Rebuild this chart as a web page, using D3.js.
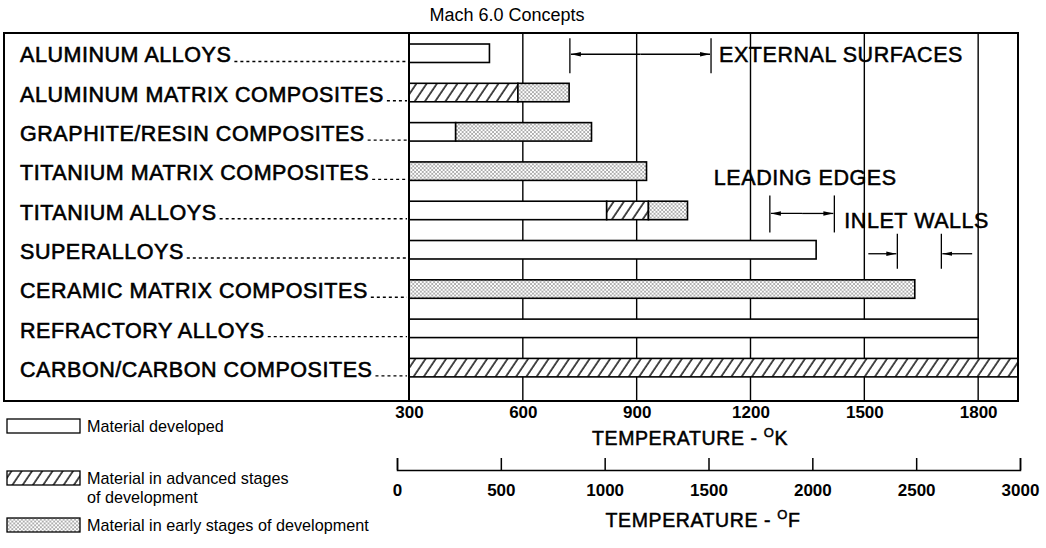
<!DOCTYPE html>
<html><head><meta charset="utf-8">
<script src="https://cdn.jsdelivr.net/npm/d3@7"></script>
<style>
html,body{margin:0;padding:0;background:#fff;}
svg{display:block;font-family:"Liberation Sans",Arial,sans-serif;}
</style></head>
<body><svg id="c" width="1046" height="548"></svg>
<script>
// ---- data ----
const categories = ["ALUMINUM ALLOYS","ALUMINUM MATRIX COMPOSITES","GRAPHITE/RESIN COMPOSITES","TITANIUM MATRIX COMPOSITES","TITANIUM ALLOYS","SUPERALLOYS","CERAMIC MATRIX COMPOSITES","REFRACTORY ALLOYS","CARBON/CARBON COMPOSITES"];
// cumulative temperature limits (K), bars start at 300 K
const developedEnd = [512, 300, 423, 300, 821, 1373, 300, 1800, 300];
const advancedEnd  = [512, 587, 423, 300, 931, 1373, 300, 1800, 1905];
const earlyEnd     = [512, 722, 781, 926, 1034, 1373, 1633, 1800, 1905];
const kTicks = [300, 600, 900, 1200, 1500, 1800];
const fTicks = [0, 500, 1000, 1500, 2000, 2500, 3000];
const externalSurfaces = [724, 1096];
const leadingEdges = [1251, 1421];
const inletWalls = [1587, 1703];
const legendLabels = [["Material developed"],["Material in advanced stages","of development"],["Material in early stages of development"]];

const svg = d3.select("#c");
const defs = svg.append("defs");
const hatch = defs.append("pattern").attr("id","hatch").attr("patternUnits","userSpaceOnUse")
  .attr("width",8.5).attr("height",10).attr("patternTransform","rotate(34)");
hatch.append("rect").attr("width",8.5).attr("height",10).attr("fill","#fff");
hatch.append("line").attr("x1",1).attr("x2",1).attr("y1",-1).attr("y2",11).attr("stroke","#000").attr("stroke-width",1.4);
const dots = defs.append("pattern").attr("id","dots").attr("patternUnits","userSpaceOnUse").attr("width",3.8).attr("height",3.8);
dots.append("rect").attr("width",3.8).attr("height",3.8).attr("fill","#fff");
dots.append("circle").attr("cx",0.95).attr("cy",0.95).attr("r",0.7).attr("fill","#333");
dots.append("circle").attr("cx",2.85).attr("cy",2.85).attr("r",0.7).attr("fill","#333");
defs.append("marker").attr("id","ah").attr("viewBox","0 0 10 6").attr("refX",10).attr("refY",3)
  .attr("markerWidth",10).attr("markerHeight",6).attr("markerUnits","userSpaceOnUse").attr("orient","auto-start-reverse")
  .append("path").attr("d","M0,0.8L10,3L0,5.2Z").attr("fill","#000");

const boxL = 4, boxR = 1018, boxT = 33, boxB = 401;
const x = d3.scaleLinear().domain([300, 1905]).range([409, 1018]);
const y = d3.scaleBand().domain(categories).range([33.6, 387.3]).paddingInner(0.53).paddingOuter(0.265);
const bw = y.bandwidth();

// title
svg.append("text").attr("x",507).attr("y",21).attr("text-anchor","middle").attr("font-size",18).text("Mach 6.0 Concepts");

// gridlines
svg.append("g").selectAll("line").data(kTicks.slice(1)).join("line")
  .attr("x1",d=>x(d)).attr("x2",d=>x(d)).attr("y1",boxT).attr("y2",boxB)
  .attr("stroke","#000").attr("stroke-width",1.4);

// bars
const segs = [];
categories.forEach((c,i)=>{
  segs.push({c, a:300, b:developedEnd[i], f:"#fff"});
  segs.push({c, a:developedEnd[i], b:advancedEnd[i], f:"url(#hatch)"});
  segs.push({c, a:advancedEnd[i], b:earlyEnd[i], f:"url(#dots)"});
});
svg.append("g").selectAll("rect").data(segs.filter(s=>s.b>s.a)).join("rect")
  .attr("x",d=>x(d.a)).attr("width",d=>x(d.b)-x(d.a)).attr("y",d=>y(d.c)).attr("height",bw)
  .attr("fill",d=>d.f).attr("stroke","#000").attr("stroke-width",1.6);

// frame
svg.append("rect").attr("x",boxL).attr("y",boxT).attr("width",boxR-boxL).attr("height",boxB-boxT)
  .attr("fill","none").attr("stroke","#000").attr("stroke-width",2);
svg.append("line").attr("x1",x(300)).attr("x2",x(300)).attr("y1",boxT).attr("y2",boxB).attr("stroke","#000").attr("stroke-width",2);

// category labels with leader dots
const lab = svg.append("g");
categories.forEach((c,i)=>{
  const base = y(c)+bw;
  const t = lab.append("text").attr("x",20).attr("y",base).attr("font-size",21.5).attr("letter-spacing",0.55)
    .attr("fill","#000").attr("stroke","#000").attr("stroke-width",0.6).text(c);
  const end = 20 + t.node().getComputedTextLength();
  lab.append("line").attr("x1",end+3).attr("x2",x(300)-2).attr("y1",base-1).attr("y2",base-1)
    .attr("stroke","#000").attr("stroke-width",1.4).attr("stroke-dasharray","3,3");
});

// annotations
const ann = svg.append("g").attr("stroke","#000").attr("stroke-width",1.3);
const annText = (xx,yy,s)=>svg.append("text").attr("x",xx).attr("y",yy).attr("font-size",21.5).attr("letter-spacing",0.55)
  .attr("stroke","#000").attr("stroke-width",0.5).text(s);
function yc(i){ return y(categories[i]) + bw/2; }
// external surfaces
{
  const yy = yc(0)+1;
  externalSurfaces.forEach(v=>ann.append("line").attr("x1",x(v)).attr("x2",x(v)).attr("y1",yy-16).attr("y2",yy+19));
  const mid = (x(externalSurfaces[0])+x(externalSurfaces[1]))/2;
  ann.append("line").attr("x1",mid).attr("x2",x(externalSurfaces[0])+1).attr("y1",yy).attr("y2",yy).attr("marker-end","url(#ah)");
  ann.append("line").attr("x1",mid).attr("x2",x(externalSurfaces[1])-1).attr("y1",yy).attr("y2",yy).attr("marker-end","url(#ah)");
  annText(x(externalSurfaces[1])+8, yy+8, "EXTERNAL SURFACES");
}
// leading edges
{
  const yy = yc(4)+3;
  leadingEdges.forEach(v=>ann.append("line").attr("x1",x(v)).attr("x2",x(v)).attr("y1",yy-18).attr("y2",yy+19));
  const mid = (x(leadingEdges[0])+x(leadingEdges[1]))/2;
  ann.append("line").attr("x1",mid).attr("x2",x(leadingEdges[0])+1).attr("y1",yy).attr("y2",yy).attr("marker-end","url(#ah)");
  ann.append("line").attr("x1",mid).attr("x2",x(leadingEdges[1])-1).attr("y1",yy).attr("y2",yy).attr("marker-end","url(#ah)");
  annText(x(leadingEdges[0])-56, yc(3)+14, "LEADING EDGES");
}
// inlet walls
{
  const yy = yc(5)+4;
  inletWalls.forEach(v=>ann.append("line").attr("x1",x(v)).attr("x2",x(v)).attr("y1",yy-20).attr("y2",yy+15));
  ann.append("line").attr("x1",x(1500)+4).attr("x2",x(inletWalls[0])-1).attr("y1",yy).attr("y2",yy).attr("marker-end","url(#ah)");
  ann.append("line").attr("x1",x(1800)-6).attr("x2",x(inletWalls[1])+1).attr("y1",yy).attr("y2",yy).attr("marker-end","url(#ah)");
  annText(x(leadingEdges[1])+10, yc(4)+18, "INLET WALLS");
}

// K axis labels
const kAxis = svg.append("g").attr("transform",`translate(0,${boxB})`)
  .call(d3.axisBottom(x).tickValues(kTicks).tickSize(0).tickPadding(5).tickFormat(d3.format("d")));
kAxis.select(".domain").remove();
kAxis.selectAll("text").attr("font-size",17).attr("font-weight","bold").attr("font-family","Liberation Sans").attr("fill","#000");
function axTitle(xx, yy, unit){
  const t = svg.append("text").attr("x",xx).attr("y",yy).attr("text-anchor","middle").attr("font-size",19.5)
    .attr("letter-spacing",0.6).attr("stroke","#000").attr("stroke-width",0.5);
  t.append("tspan").text("TEMPERATURE - ");
  t.append("tspan").attr("font-size",13).attr("dy",-8).text("O");
  t.append("tspan").attr("dy",8).text(unit);
}
axTitle(690, 445, "K");

// F axis
const xf = d3.scaleLinear().domain([0,3000]).range([397,1020]);
const fAxis = svg.append("g").attr("transform","translate(0,470)")
  .call(d3.axisBottom(xf).tickValues(fTicks).tickSize(-12).tickSizeOuter(-12).tickPadding(14).tickFormat(d3.format("d")));
fAxis.selectAll("path,line").attr("stroke","#000").attr("stroke-width",1.5);
fAxis.selectAll("text").attr("font-size",17).attr("font-weight","bold").attr("font-family","Liberation Sans").attr("fill","#000");
axTitle(703, 527, "F");

// legend
const legFills = ["#fff","url(#hatch)","url(#dots)"];
const legY = [419, 471, 518];
const leg = svg.append("g");
legFills.forEach((f,i)=>{
  leg.append("rect").attr("x",7).attr("y",legY[i]).attr("width",73).attr("height",14).attr("fill",f).attr("stroke","#000").attr("stroke-width",1.3);
  legendLabels[i].forEach((s,j)=>leg.append("text").attr("x",87).attr("y",legY[i]+13+j*19).attr("font-size",16.2).text(s));
});
</script></body></html>
